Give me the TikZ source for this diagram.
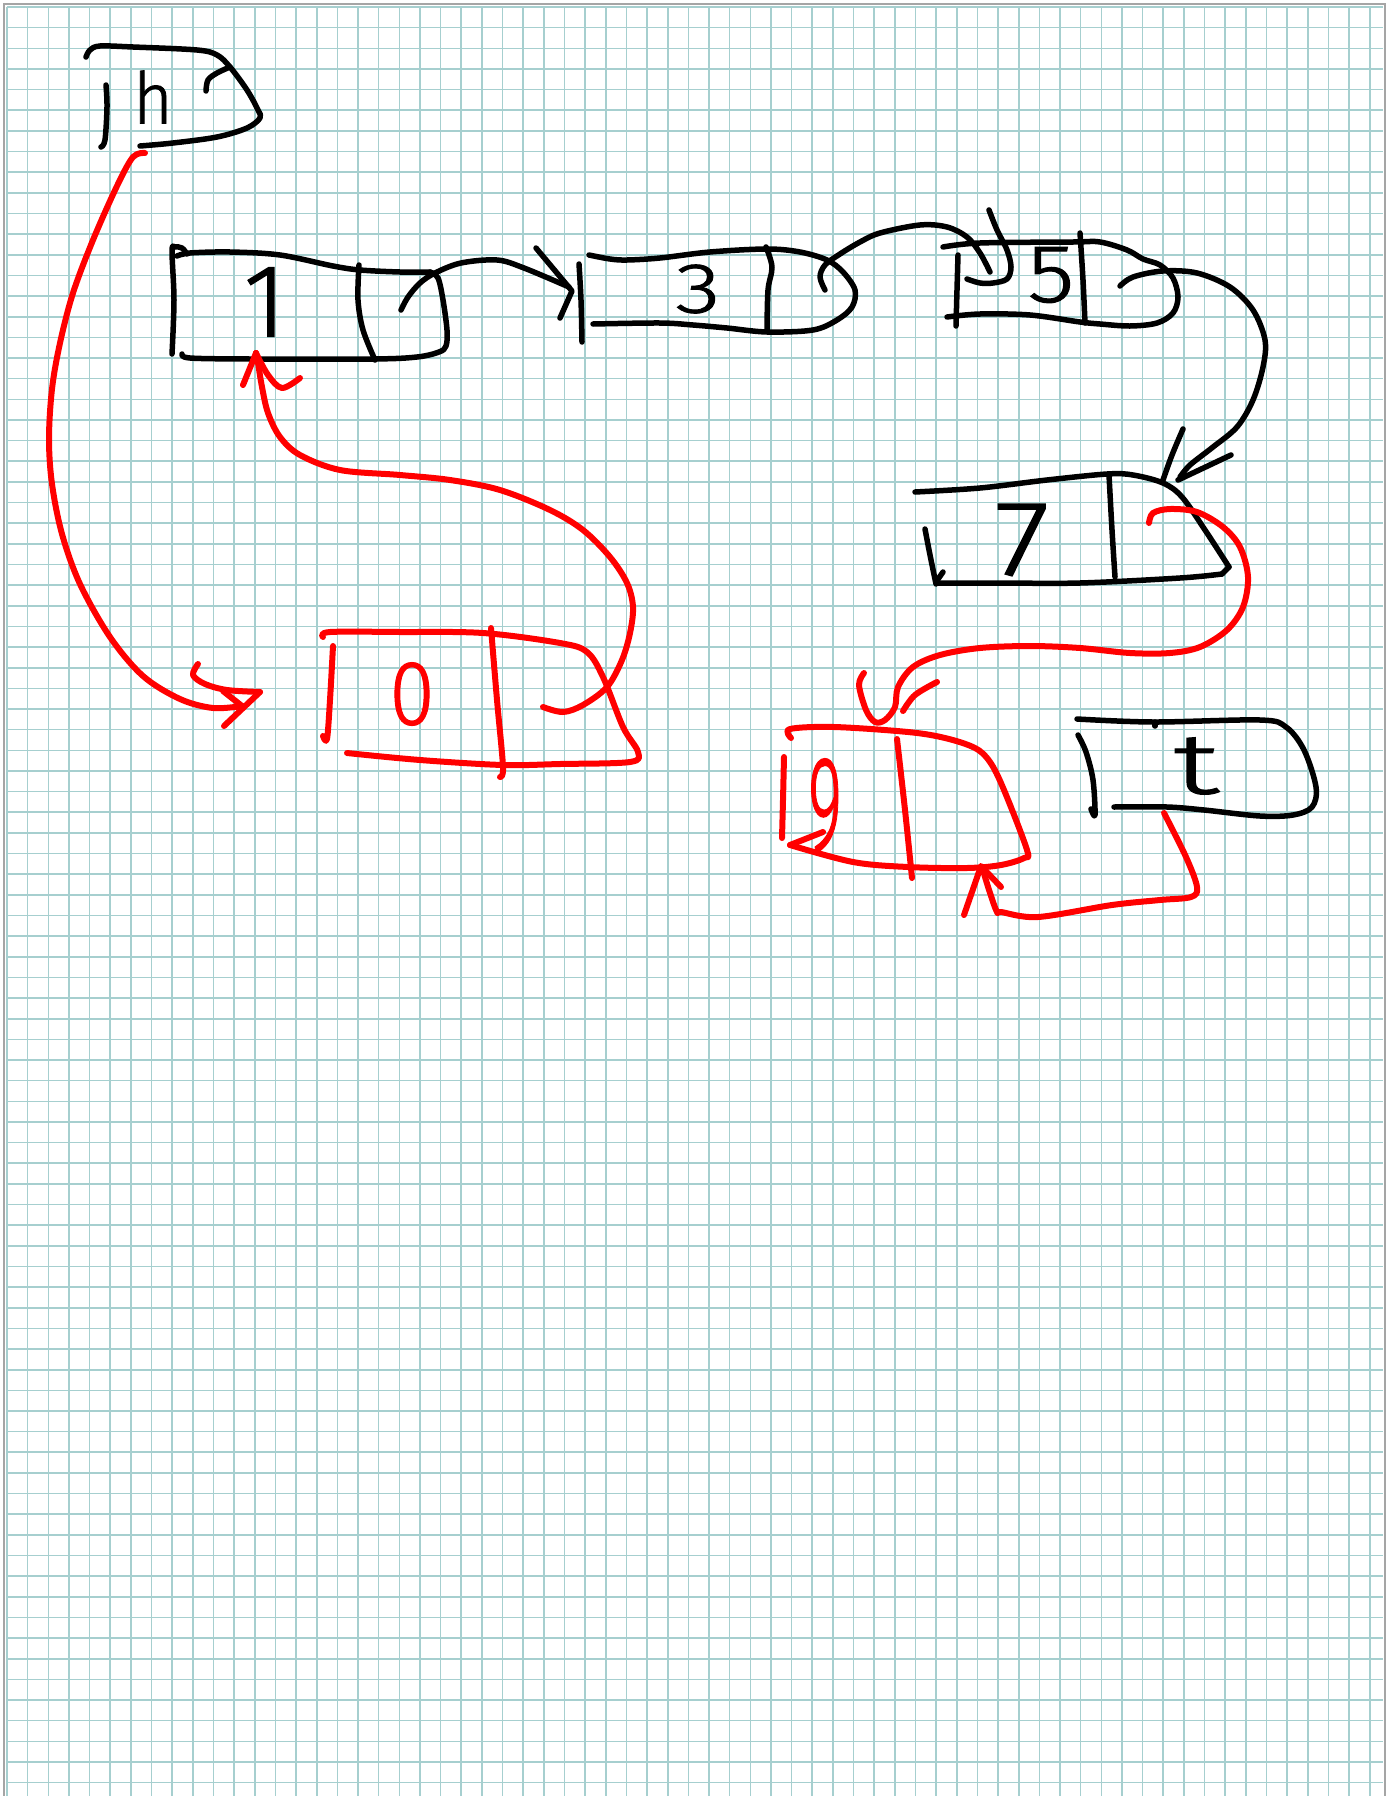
\documentclass[tikz,border=0pt]{standalone}
\usepackage{fontspec}
\usepackage{graphicx}
\IfFontExistsTF{Fira Sans Book}{\newfontfamily\hand{Fira Sans Book}}{%
 \IfFontExistsTF{Fira Sans Light}{\newfontfamily\hand{Fira Sans Light}[FakeBold=1.2,AutoFakeBold=1.2]}{%
  \IfFontExistsTF{Lato Light}{\newfontfamily\hand{Lato Light}}{%
      \newfontfamily\hand{Fira Sans}}}}
\definecolor{gridc}{RGB}{166,207,207}
\definecolor{bordc}{RGB}{165,165,165}
\definecolor{pen}{RGB}{255,0,0}
\tikzset{
  bk/.style={line width=5.5pt, line cap=round, line join=round, black},
  rd/.style={line width=6pt, line cap=round, line join=round, pen},
  gridl/.style={gridc, line width=1.6pt},
  hw/.style={inner sep=0pt, outer sep=0pt, font=\hand},
  sm/.style={smooth, tension=0.55}
}
\begin{document}
\begin{tikzpicture}[x=1pt,y=-1pt]
\useasboundingbox (0,0) rectangle (1389,1796);
\fill[white] (0,0) rectangle (1389,1796);
% grid paper
\foreach \k in {0,...,66} \draw[gridl] ({7.05+20.646*\k},7) -- ({7.05+20.646*\k},1796);
\foreach \k in {0,...,86} \draw[gridl] (7,{7.05+20.646*\k}) -- (1383,{7.05+20.646*\k});
\draw[bordc, line width=1.5pt] (4,1796) -- (4,4) -- (1385,4) -- (1385,1796);

% ---------- values (text) ----------
\node[hw] (vh) at (153,97) {\resizebox{40pt}{53pt}{h}};
\node[hw] (v1) at (265,302) {\resizebox{!}{69pt}{1}};
\node[hw] (v3) at (698,289) {\resizebox{45pt}{48pt}{3}};
\node[hw] (v5) at (1051,275) {\resizebox{47pt}{55pt}{5}};
\node[hw] (v7) at (1022,540) {\resizebox{55pt}{71pt}{7}};
\node[hw,text=pen] (v0) at (412,694) {\resizebox{45pt}{62pt}{0}};
\node[hw,text=pen] (v9) at (825,806) {\resizebox{34pt}{92pt}{9}};
\node[hw] (vt) at (1196,766) {\resizebox{46pt}{56pt}{t}};

% ---------- connector end points ----------
\coordinate (hout) at (145,153);
\coordinate (in10) at (242,706);
\coordinate (out1) at (401,310);
\coordinate (in3) at (569,287);
\coordinate (out3) at (825,290);
\coordinate (in5) at (990,272);
\coordinate (out5) at (1120,286);
\coordinate (in7) at (1180,477);
\coordinate (out7) at (1149,523);
\coordinate (in9) at (864,673);
\coordinate (outt) at (1164,813);
\coordinate (in9b) at (982,867);
\coordinate (out10) at (543,707);
\coordinate (in1) at (256,353);

% ---------- head box ----------
\draw[bk] plot[sm] coordinates {(86,57) (90,50) (100,46) (133,47) (197,50) (217,55) (230,67) (247,90) (258,110) (260,118) (247,128) (217,137) (173,143) (140,146)};
\draw[bk] plot[sm] coordinates {(106,85) (107,107) (105,140) (101,147)};
\draw[bk] plot[sm] coordinates {(206,91) (208,80) (217,73) (230,67)};

% ---------- node 1 ----------
\draw[bk] plot[sm] coordinates {(172,354) (174,300) (172,251) (175,247) (182,248) (187,254)};
\draw[bk] plot[sm] coordinates {(177,256) (190,253) (230,252) (280,255) (333,266) (360,270) (400,272) (430,272)};
\draw[bk] plot[sm] coordinates {(430,272) (438,278) (443,300) (447,330) (446,346) (439,352) (417,357) (373,359) (250,359) (190,358) (182,354)};
\draw[bk] plot[sm] coordinates {(359,265) (358,300) (363,330) (375,360)};

% ---------- node 3 ----------
\draw[bk] plot[sm] coordinates {(579,264) (581,300) (582,342)};
\draw[bk] plot[sm] coordinates {(589,255) (610,259) (627,260) (660,258) (710,252) (767,249) (800,252) (827,260) (843,272) (855,290) (852,307) (837,320) (813,330) (767,332) (727,328) (693,325) (660,323) (593,324)};
\draw[bk] plot[sm] coordinates {(766,247) (772,267) (768,290) (767,330)};

% ---------- node 5 ----------
\draw[bk] plot[sm] coordinates {(943,247) (980,243) (1073,242) (1100,242) (1127,250) (1143,259) (1160,265) (1173,278) (1178,297) (1173,313) (1157,323) (1130,326) (1100,324) (1080,322) (1030,315) (980,314) (947,317)};
\draw[bk] plot[sm] coordinates {(958,255) (957,290) (956,326)};
\draw[bk] plot[sm] coordinates {(1080,233) (1083,280) (1085,323)};

% ---------- node 7 ----------
\draw[bk] plot[sm] coordinates {(915,492) (980,488) (1047,480) (1107,474) (1133,475) (1163,483) (1182,497) (1205,530) (1229,567)};
\draw[bk] (1229,567) -- (1222,574);
\draw[bk] plot[sm] coordinates {(1222,574) (1180,578) (1080,583) (1000,583) (937,583)};
\draw[bk] plot[sm] coordinates {(925,529) (930,555) (936,584)};
\draw[bk] (943,572) -- (936,582);
\draw[bk] plot[sm] coordinates {(1109,475) (1112,530) (1115,577)};

% ---------- node t ----------
\draw[bk] plot[sm] coordinates {(1077,719) (1153,722) (1260,720) (1286,727) (1304,750) (1316,787) (1312,807) (1293,815) (1260,816) (1204,810) (1167,807) (1114,807)};
\draw[bk] (1155,722) -- (1155,726);
\draw[bk] plot[sm] coordinates {(1078,735) (1086,752) (1093,780) (1095,815) (1091,809)};

% ---------- node 10 (red) ----------
\draw[rd] plot[sm] coordinates {(323,637) (330,632) (400,632) (483,633) (560,643) (587,652) (603,677) (623,727) (638,752) (630,762) (560,764) (503,765) (420,760) (347,753)};
\draw[rd] plot[sm] coordinates {(333,646) (330,700) (327,739) (323,736)};
\draw[rd] plot[sm] coordinates {(491,628) (497,700) (503,767) (500,777)};

% ---------- node 9 (red) ----------
\draw[rd] plot[sm] coordinates {(791,738) (790,729) (834,727) (908,732) (945,738) (975,748) (990,762) (1004,790) (1027,850) (1024,858) (1001,865) (967,868) (908,867) (853,862) (790,845)};
\draw[rd] (790,845) -- (823,832);
\draw[rd] plot[sm] coordinates {(784,757) (783,800) (782,838)};
\draw[rd] plot[sm] coordinates {(897,739) (905,810) (912,878)};

% ---------- black connectors ----------
\draw[bk] plot[sm] coordinates {(out1) (408,297) (420,283) (435,273) (461,263) (497,260) (524,268) (in3)};
\draw[bk] (536,248) -- (572,291) -- (560,318);
\draw[bk] plot[sm] coordinates {(out3) (820,277) (825,265) (840,254) (860,242) (880,233) (920,225) (947,227) (967,237) (980,253) (in5)};
\draw[bk] plot[sm] coordinates {(989,210) (997,230) (1007,250) (1011,267) (1007,279) (993,283) (980,283) (967,279)};
\draw[bk] plot[sm] coordinates {(out5) (1133,277) (1163,271) (1197,273) (1230,287) (1253,310) (1265,340) (1263,367) (1253,400) (1237,427) (1213,447) (1190,465) (in7)};
\draw[bk] plot[sm] coordinates {(1183,429) (1172,455) (1163,480)};
\draw[bk] (1231,455) -- (1178,480);

% ---------- red connectors ----------
\draw[rd] plot[sm] coordinates {(hout) (133,157) (117,186) (93,240) (73,293) (60,343) (52,389) (49,439) (52,484) (62,534) (80,584) (110,637) (143,676) (180,699) (213,708) (in10)};
\draw[rd] plot[sm] coordinates {(198,664) (193,675) (205,684) (227,690) (260,692)};
\draw[rd] (260,692) -- (224,726);
\draw[rd] (223,691) -- (242,706);

\draw[rd] plot[sm] coordinates {(out10) (563,712) (583,705) (607,687) (622,660) (630,633) (633,607) (627,583) (610,557) (583,530) (550,510) (500,490) (450,480) (400,475) (340,470) (300,455) (280,437) (268,413) (262,387) (258,363) (in1)};
\draw[rd] (243,385) -- (in1);
\draw[rd] plot[sm] coordinates {(in1) (268,375) (282,388) (300,378)};

\draw[rd] plot[sm] coordinates {(out7) (1153,513) (1170,509) (1197,512) (1223,527) (1240,547) (1248,577) (1243,607) (1227,630) (1200,647) (1170,653) (1130,653) (1080,648) (1030,646) (980,648) (940,655) (913,667) (898,687) (895,707) (885,720) (875,722) (866,710) (859,685) (in9)};
\draw[rd] plot[sm] coordinates {(937,682) (915,695) (903,711)};

\draw[rd] plot[sm] coordinates {(outt) (1186,857) (1197,887) (1191,897) (1160,900) (1112,905) (1038,917) (1001,912) (997,912) (990,893) (in9b)};
\draw[rd] (964,915) -- (981,866) -- (1001,887);
\end{tikzpicture}
\end{document}
